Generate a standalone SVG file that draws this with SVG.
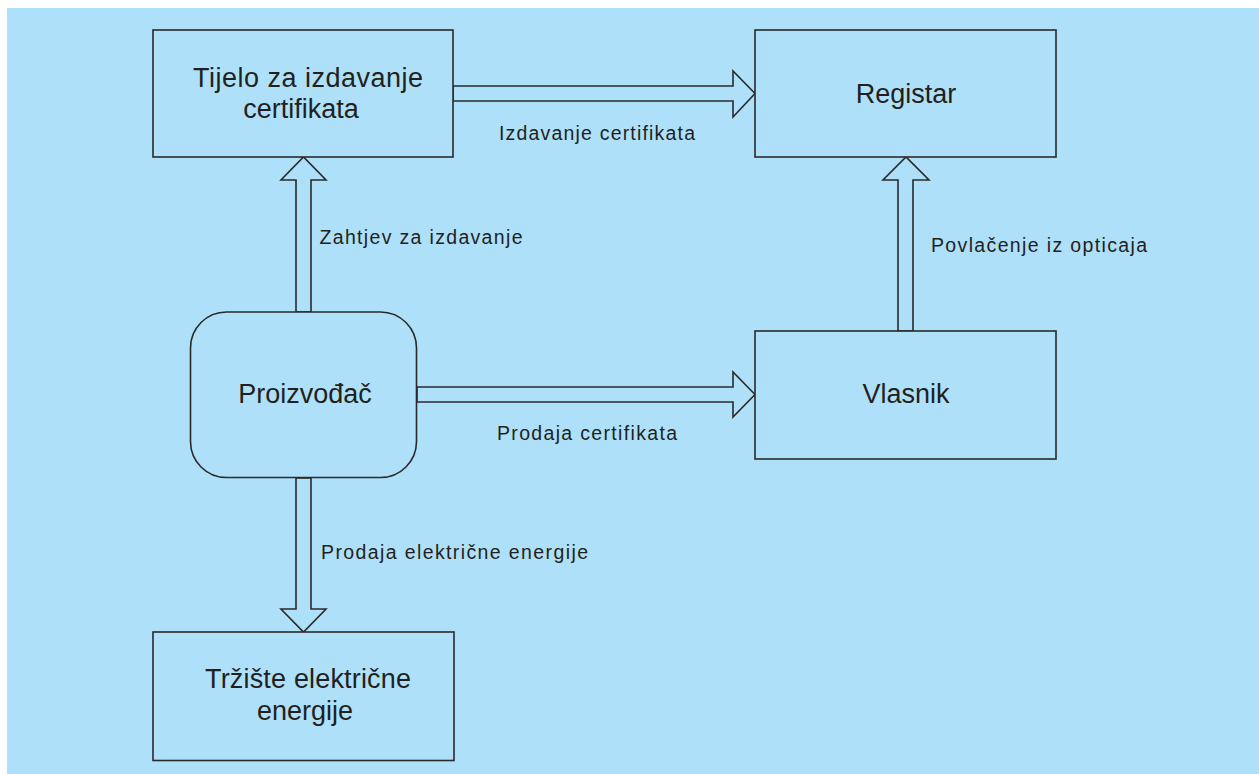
<svg xmlns="http://www.w3.org/2000/svg" width="1259" height="774" viewBox="0 0 1259 774">
<style>
.box{fill:#AEE1F9;stroke:#2a2a2a;stroke-width:1.6}
.arr{fill:#AEE1F9;stroke:#2a2a2a;stroke-width:1.6;stroke-linejoin:miter}
.t{font-family:"Liberation Sans",Arial,sans-serif;fill:#231F20}
.n{font-size:27px;text-anchor:middle}
.l{font-size:19.5px}
</style>
<rect x="0" y="0" width="1259" height="774" fill="#ffffff"/>
<rect x="7" y="8" width="1252" height="766" fill="#AEE1F9"/>
<g id="connectors">
<polygon class="arr" points="453,86 733,86 733,71 755,93.5 733,117 733,101 453,101"/>
<polygon class="arr" points="417,387 733,387 733,372 755,394.5 733,417 733,402 417,402"/>
<polygon class="arr" points="296,312 296,180 281,180 303.5,157 326,180 311,180 311,312"/>
<polygon class="arr" points="898,331 898,180 883,180 906,157 929,180 913,180 913,331"/>
<polygon class="arr" points="296,478 296,609 281,609 303.5,632 326,609 311,609 311,478"/>
<text class="t l" x="499" y="140" textLength="196" lengthAdjust="spacing">Izdavanje certifikata</text>
<text class="t l" x="319.5" y="244" textLength="203" lengthAdjust="spacing">Zahtjev za izdavanje</text>
<text class="t l" x="931" y="252" textLength="216" lengthAdjust="spacing">Povlačenje iz opticaja</text>
<text class="t l" x="497" y="440" textLength="180" lengthAdjust="spacing">Prodaja certifikata</text>
<text class="t l" x="321" y="559" textLength="267" lengthAdjust="spacing">Prodaja električne energije</text>
</g>
<g id="tijelo">
<rect class="box" x="153" y="30" width="300" height="127"/>
<text class="t n" x="308" y="87" textLength="230" lengthAdjust="spacing">Tijelo za izdavanje</text>
<text class="t n" x="301" y="118">certifikata</text>
</g>
<g id="registar">
<rect class="box" x="755" y="30" width="301" height="127"/>
<text class="t n" x="906" y="103">Registar</text>
</g>
<g id="proizvodjac">
<rect class="box" x="190.5" y="312" width="226" height="165.5" rx="36" ry="36"/>
<text class="t n" x="305" y="403">Proizvođač</text>
</g>
<g id="vlasnik">
<rect class="box" x="755" y="331" width="301" height="128"/>
<text class="t n" x="906" y="403">Vlasnik</text>
</g>
<g id="trziste">
<rect class="box" x="153" y="632" width="301" height="128.5"/>
<text class="t n" x="308" y="688" textLength="206" lengthAdjust="spacing">Tržište električne</text>
<text class="t n" x="305" y="720">energije</text>
</g>
</svg>
